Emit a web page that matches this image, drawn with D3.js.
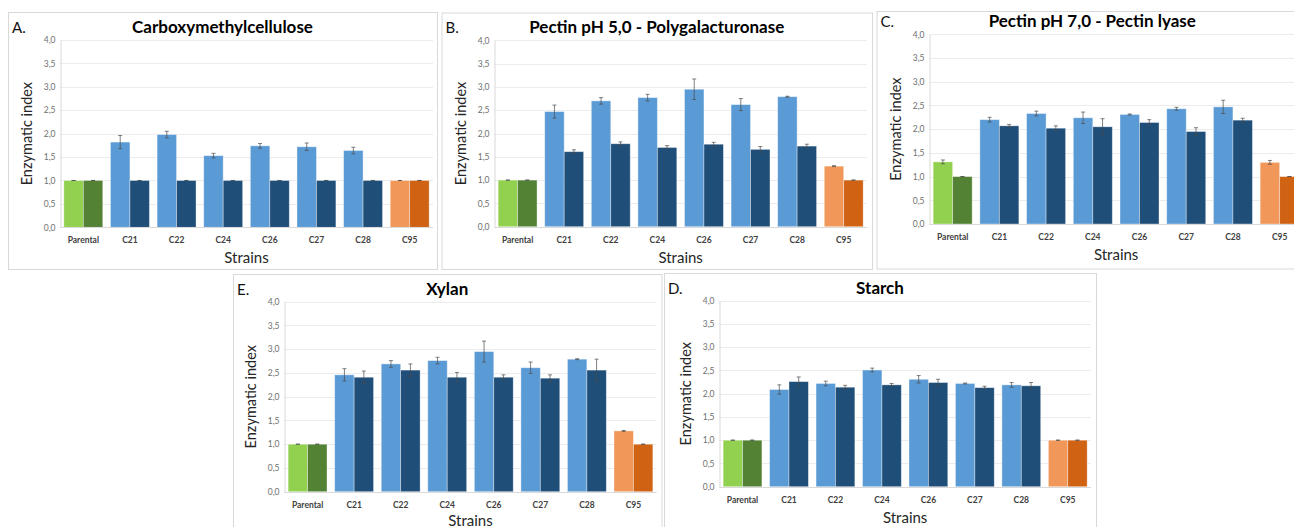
<!DOCTYPE html>
<html>
<head>
<meta charset="utf-8">
<script src="https://cdn.jsdelivr.net/npm/d3@7"></script>
<style>
  html, body { margin: 0; padding: 0; background: #fff; overflow: hidden; }
  svg { display: block; font-family: Lato, "Open Sans", sans-serif; }
</style>
</head>
<body>
<svg id="chart" width="1294" height="527"></svg>
<script>
// categories and axis ticks
var strains = ["Parental", "C21", "C22", "C24", "C26", "C27", "C28", "C95"];
var yTicks = [0, 0.5, 1, 1.5, 2, 2.5, 3, 3.5, 4];

// A. Carboxymethylcellulose
var cmcLight    = [1.00, 1.82, 1.98, 1.53, 1.74, 1.72, 1.64, 1.00];
var cmcLightErr = [0.00, 0.14, 0.07, 0.05, 0.05, 0.08, 0.07, 0.00];
var cmcDark     = [1.00, 1.00, 1.00, 1.00, 1.00, 1.00, 1.00, 1.00];
var cmcDarkErr  = [0.00, 0.00, 0.00, 0.00, 0.00, 0.00, 0.00, 0.00];

// B. Pectin pH 5,0
var pg5Light    = [1.00, 2.47, 2.70, 2.77, 2.95, 2.62, 2.79, 1.30];
var pg5LightErr = [0.00, 0.14, 0.07, 0.07, 0.22, 0.13, 0.01, 0.01];
var pg5Dark     = [1.00, 1.61, 1.78, 1.70, 1.77, 1.66, 1.73, 1.00];
var pg5DarkErr  = [0.00, 0.04, 0.04, 0.04, 0.04, 0.06, 0.04, 0.00];

// C. Pectin pH 7,0
var pl7Light    = [1.31, 2.20, 2.33, 2.24, 2.31, 2.43, 2.47, 1.30];
var pl7LightErr = [0.04, 0.05, 0.05, 0.12, 0.01, 0.03, 0.14, 0.04];
var pl7Dark     = [1.00, 2.07, 2.02, 2.05, 2.14, 1.95, 2.19, 1.00];
var pl7DarkErr  = [0.00, 0.03, 0.05, 0.17, 0.06, 0.08, 0.04, 0.00];

// E. Xylan
var xylLight    = [1.00, 2.46, 2.69, 2.76, 2.95, 2.61, 2.79, 1.28];
var xylLightErr = [0.00, 0.13, 0.07, 0.07, 0.22, 0.12, 0.01, 0.01];
var xylDark     = [1.00, 2.41, 2.56, 2.41, 2.41, 2.39, 2.56, 1.00];
var xylDarkErr  = [0.00, 0.13, 0.13, 0.10, 0.05, 0.07, 0.23, 0.00];

// D. Starch
var staLight    = [1.00, 2.09, 2.22, 2.51, 2.31, 2.22, 2.19, 1.00];
var staLightErr = [0.00, 0.10, 0.05, 0.04, 0.08, 0.01, 0.05, 0.00];
var staDark     = [1.00, 2.26, 2.14, 2.19, 2.24, 2.13, 2.17, 1.00];
var staDarkErr  = [0.00, 0.10, 0.04, 0.03, 0.07, 0.03, 0.07, 0.00];

var lightCols = ["#92d050", "#5b9bd5", "#5b9bd5", "#5b9bd5", "#5b9bd5", "#5b9bd5", "#5b9bd5", "#f1975a"];
var darkCols  = ["#548235", "#1f4e79", "#1f4e79", "#1f4e79", "#1f4e79", "#1f4e79", "#1f4e79", "#cf6213"];

var svg = d3.select("#chart");

function drawPanel(p){
	var g = svg.append("g");
	// frame
	g.append("rect")
		.attr("x", p.box[0] + 0.5).attr("y", p.box[1] + 0.5)
		.attr("width", p.box[2] - p.box[0]).attr("height", p.box[3] - p.box[1])
		.attr("fill", "#fff").attr("stroke", "#d9d9d9").attr("stroke-width", 1);

	var x = d3.scaleBand().domain(strains).range([p.left, p.right])
		.paddingInner(0.165).paddingOuter(0.0825);
	var sub = d3.scaleBand().domain([0, 1]).range([0, x.bandwidth()]);
	var y = d3.scaleLinear().domain([0, 4]).range([p.bottom, p.top]);

	// grid
	g.append("g").selectAll("line").data(yTicks.slice(1)).enter().append("line")
		.attr("x1", p.left).attr("x2", p.right)
		.attr("y1", function(d){ return Math.round(y(d)) + 0.5; })
		.attr("y2", function(d){ return Math.round(y(d)) + 0.5; })
		.attr("stroke", "#ececec");

	var yAxis = g.append("g").attr("transform", "translate(" + (Math.round(p.left) + 0.5) + ",0)")
		.call(d3.axisLeft(y).tickValues(yTicks).tickSize(0).tickPadding(5)
			.tickFormat(function(d){ return d.toFixed(1).replace(".", ","); }));
	yAxis.select(".domain").attr("stroke", "#d9d9d9");
	yAxis.selectAll("text").attr("fill", "#6f6f6f").style("font-size", "8.5px").style("font-family", "Lato, sans-serif");

	var bars = [
		{vals: p.light, errs: p.lightErr, cols: lightCols, k: 0},
		{vals: p.dark, errs: p.darkErr, cols: darkCols, k: 1}
	];
	bars.forEach(function(s){
		g.append("g").selectAll("rect").data(s.vals).enter().append("rect")
			.attr("x", function(d, i){ return x(strains[i]) + sub(s.k); })
			.attr("y", function(d){ return y(d); })
			.attr("width", sub.bandwidth())
			.attr("height", function(d){ return y(0) - y(d); })
			.attr("fill", function(d, i){ return s.cols[i]; })
			.attr("stroke", "rgba(255,255,255,0.45)").attr("stroke-width", 0.8);
	});
	bars.forEach(function(s){
		var eg = g.append("g").attr("stroke", "#4a4a4a").attr("stroke-width", 0.7);
		s.vals.forEach(function(v, i){
			var cx = x(strains[i]) + sub(s.k) + sub.bandwidth() / 2;
			var e = s.errs[i];
			eg.append("line").attr("x1", cx).attr("x2", cx).attr("y1", y(v - e)).attr("y2", y(v + e));
			eg.append("line").attr("x1", cx - 2).attr("x2", cx + 2).attr("y1", y(v + e)).attr("y2", y(v + e));
			eg.append("line").attr("x1", cx - 2).attr("x2", cx + 2).attr("y1", y(v - e)).attr("y2", y(v - e));
		});
	});

	// baseline
	g.append("line").attr("x1", p.left).attr("x2", p.right)
		.attr("y1", Math.round(p.bottom) + 0.5).attr("y2", Math.round(p.bottom) + 0.5)
		.attr("stroke", "#d9d9d9");

	var xAxis = g.append("g").attr("transform", "translate(0," + p.bottom + ")")
		.call(d3.axisBottom(x).tickSize(0).tickPadding(10));
	xAxis.select(".domain").remove();
	xAxis.selectAll("text").attr("fill", "#404040").style("font-size", "8.5px")
		.style("font-weight", "bold").style("font-family", "Lato, sans-serif");

	var boxMid = (p.box[0] + p.box[2]) / 2;
	g.append("text").attr("x", boxMid).attr("y", p.top - 7)
		.attr("text-anchor", "middle").style("font-size", "17px").style("font-weight", "bold")
		.attr("fill", "#000").text(p.title);
	g.append("text").attr("x", p.box[0] + 4).attr("y", p.top - 7)
		.style("font-size", "15px").attr("fill", "#111").text(p.letter);
	// keep the x title inside the page
	g.append("text").attr("x", (p.left + p.right) / 2).attr("y", Math.min(p.bottom + 36, 525.5))
		.attr("text-anchor", "middle").style("font-size", "15px").attr("fill", "#262626").text("Strains");
	g.append("text")
		.attr("transform", "translate(" + (p.left - 28) + "," + ((p.top + p.bottom) / 2) + ") rotate(-90)")
		.attr("text-anchor", "middle").style("font-size", "14.5px").attr("fill", "#262626").text("Enzymatic index");
}

drawPanel({letter: "A.", title: "Carboxymethylcellulose", box: [8, 12, 437, 269],
	left: 60, right: 433, top: 40, bottom: 227.3,
	light: cmcLight, lightErr: cmcLightErr, dark: cmcDark, darkErr: cmcDarkErr});
drawPanel({letter: "B.", title: "Pectin pH 5,0 - Polygalacturonase", box: [441.5, 12.5, 872, 269],
	left: 494.3, right: 867, top: 40.3, bottom: 226.7,
	light: pg5Light, lightErr: pg5LightErr, dark: pg5Dark, darkErr: pg5DarkErr});
drawPanel({letter: "C.", title: "Pectin pH 7,0 - Pectin lyase", box: [876.5, 11, 1308, 268.5],
	left: 929.3, right: 1303, top: 34.3, bottom: 224,
	light: pl7Light, lightErr: pl7LightErr, dark: pl7Dark, darkErr: pl7DarkErr});
drawPanel({letter: "E.", title: "Xylan", box: [233, 274, 661.5, 540],
	left: 284.3, right: 656.7, top: 301.7, bottom: 491.7,
	light: xylLight, lightErr: xylLightErr, dark: xylDark, darkErr: xylDarkErr});
drawPanel({letter: "D.", title: "Starch", box: [664, 273, 1096, 540],
	left: 719.3, right: 1091, top: 300.7, bottom: 486.7,
	light: staLight, lightErr: staLightErr, dark: staDark, darkErr: staDarkErr});
</script>
</body>
</html>
